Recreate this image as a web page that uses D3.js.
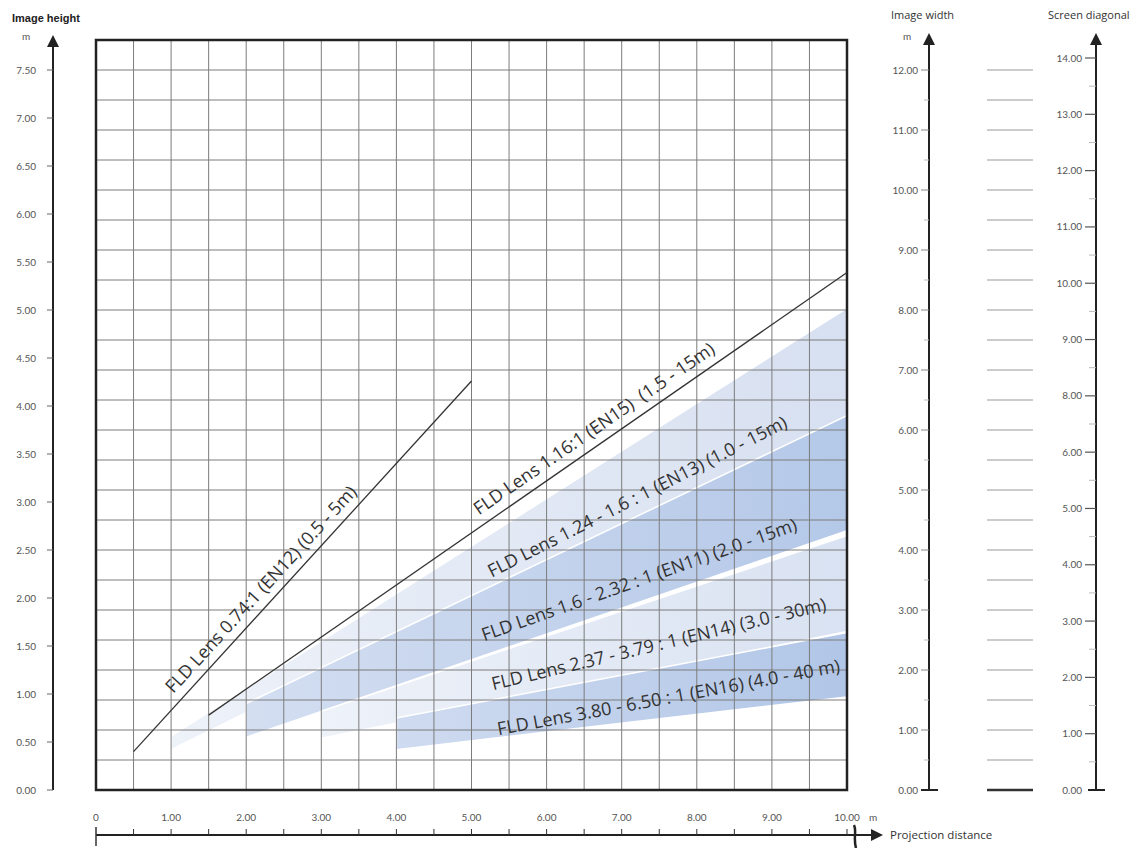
<!DOCTYPE html>
<html lang="en">
<head>
<meta charset="UTF-8">
<title>FLD Lens projection chart</title>
<script src="https://d3js.org/d3.v7.min.js"></script>
<style>
    body { margin: 0; background: #fff; }
    .tick-label { font-family: Lato, 'Liberation Sans', sans-serif; font-size: 10px; fill: #555; }
    .lens-label { font-family: 'Open Sans', sans-serif; font-size: 18px; fill: #333; white-space: pre; }
    .axis-title { font-family: 'Open Sans', sans-serif; font-size: 11px; fill: #333; }
</style>
</head>
<body>
<svg id="chart" width="1148" height="848"></svg>
<script>
// projection distance ticks (m)
const distTicks = [0, 1, 2, 3, 4, 5, 6, 7, 8, 9, 10];
const distLabels = ["0", "1.00", "2.00", "3.00", "4.00", "5.00", "6.00", "7.00", "8.00", "9.00", "10.00"];
// image height ticks (m)
const heightTicks = [0, 0.5, 1, 1.5, 2, 2.5, 3, 3.5, 4, 4.5, 5, 5.5, 6, 6.5, 7, 7.5];
// image width ticks (m)
const widthTicks = [0, 1, 2, 3, 4, 5, 6, 7, 8, 9, 10, 11, 12];
// screen diagonal labels as printed (7.00 is missing in the original)
const diagLabels = ["0.00", "1.00", "2.00", "3.00", "4.00", "5.00", "6.00", "8.00", "9.00", "10.00", "11.00", "12.00", "13.00", "14.00"];

// fixed lenses: [distance, height] at both ends
const lineLabels = ["FLD Lens 0.74:1 (EN12) (0.5 - 5m)", "FLD Lens 1.16:1 (EN15)  (1.5 - 15m)"];
const lineFrom = [[0.5, 0.40], [1.5, 0.78]];
const lineTo = [[5.0, 4.26], [10.0, 5.39]];
const lineLabelAt = [[1.03, 1.00, -47.5], [5.10, 2.86, -34.6]];

// zoom lenses: start distance, heights (top, bottom) at start and at 10 m
const wedgeLabels = [
    "FLD Lens 1.24 - 1.6 : 1 (EN13) (1.0 - 15m)",
    "FLD Lens 1.6 - 2.32 : 1 (EN11) (2.0 - 15m)",
    "FLD Lens 2.37 - 3.79 : 1 (EN14) (3.0 - 30m)",
    "FLD Lens 3.80 - 6.50 : 1 (EN16) (4.0 - 40 m)"
];
const wedgeStart = [1.0, 2.0, 3.0, 4.0];
const wedgeTopStart = [0.56, 0.90, 0.82, 0.75];
const wedgeBottomStart = [0.42, 0.55, 0.54, 0.42];
const wedgeTopEnd = [5.02, 3.90, 2.65, 1.64];
const wedgeBottomEnd = [3.90, 2.70, 1.65, 0.97];
const wedgeLabelAt = [[5.27, 2.21, -27], [5.17, 1.55, -19.5], [5.29, 1.04, -13.5], [5.36, 0.57, -10.5]];

const wedgeColors = [["#eef2f9", "#d7e0f1"], ["#d3def1", "#b4c8e8"], ["#eef2f9", "#d9e2f2"], ["#cfdbf0", "#b1c6e7"]];

const svg = d3.select('#chart');

const x = d3.scaleLinear().domain([0, 10]).range([96, 847]);
const yH = d3.scaleLinear().domain([0, 7.5]).range([790, 70]);
const yW = d3.scaleLinear().domain([0, 12]).range([790, 70]);
const yD = d3.scalePoint().domain(diagLabels).range([790, 58]);

function arrowUp(g, cx, tipY) {
    g.append('path')
        .attr('d', 'M' + cx + ',' + tipY + 'L' + (cx - 6) + ',' + (tipY + 12) + 'L' + (cx + 6) + ',' + (tipY + 12) + 'Z')
        .attr('fill', '#222');
}

// wedges
const defs = svg.append('defs');
wedgeStart.forEach(function(s, i) {
    const grad = defs.append('linearGradient')
        .attr('id', 'wg' + i)
        .attr('gradientUnits', 'userSpaceOnUse')
        .attr('x1', x(s)).attr('x2', x(10)).attr('y1', 0).attr('y2', 0);
    grad.append('stop').attr('offset', 0).attr('stop-color', wedgeColors[i][0]);
    grad.append('stop').attr('offset', 1).attr('stop-color', wedgeColors[i][1]);
});

const area = d3.line().x(function(d) { return x(d[0]); }).y(function(d) { return yH(d[1]); });
svg.append('g').selectAll('path')
    .data(wedgeStart)
    .enter().append('path')
    .attr('d', function(s, i) {
        return area([[s, wedgeTopStart[i]], [10, wedgeTopEnd[i]], [10, wedgeBottomEnd[i]], [s, wedgeBottomStart[i]]]) + 'Z';
    })
    .attr('fill', function(s, i) { return 'url(#wg' + i + ')'; })
    .attr('stroke', '#fff')
    .attr('stroke-width', 1.5);

// grid: columns every 0.5 m distance, rows every 0.5 m image width
const grid = svg.append('g').attr('stroke', '#7c7c7c').attr('stroke-width', 1);
grid.selectAll('.v')
    .data(d3.range(0.5, 10, 0.5))
    .enter().append('line')
    .attr('x1', function(d) { return x(d); }).attr('x2', function(d) { return x(d); })
    .attr('y1', yW(0)).attr('y2', yW(12.5));
grid.selectAll('.h')
    .data(d3.range(0.5, 12.5, 0.5))
    .enter().append('line')
    .attr('x1', x(0)).attr('x2', x(10))
    .attr('y1', function(d) { return yW(d); }).attr('y2', function(d) { return yW(d); });

svg.append('rect')
    .attr('x', x(0)).attr('y', yW(12.5))
    .attr('width', x(10) - x(0)).attr('height', yW(0) - yW(12.5))
    .attr('fill', 'none').attr('stroke', '#222').attr('stroke-width', 2.5);

// fixed lens lines
svg.append('g').selectAll('line')
    .data(lineFrom)
    .enter().append('line')
    .attr('x1', function(d) { return x(d[0]); })
    .attr('y1', function(d) { return yH(d[1]); })
    .attr('x2', function(d, i) { return x(lineTo[i][0]); })
    .attr('y2', function(d, i) { return yH(lineTo[i][1]); })
    .attr('stroke', '#333').attr('stroke-width', 1.3);

// lens labels
const labels = lineLabels.concat(wedgeLabels);
const labelAt = lineLabelAt.concat(wedgeLabelAt);
svg.append('g').selectAll('text')
    .data(labels)
    .enter().append('text')
    .attr('class', 'lens-label')
    .attr('xml:space', 'preserve')
    .attr('transform', function(d, i) {
        return 'translate(' + x(labelAt[i][0]) + ',' + yH(labelAt[i][1]) + ') rotate(' + labelAt[i][2] + ')';
    })
    .text(function(d) { return d; });

// left axis: image height
const left = svg.append('g');
left.append('line').attr('x1', 53).attr('x2', 53).attr('y1', yH(0)).attr('y2', 44)
    .attr('stroke', '#222').attr('stroke-width', 2);
arrowUp(left, 53, 35);
left.selectAll('.tk').data(heightTicks).enter().append('line')
    .attr('x1', 47).attr('x2', 53)
    .attr('y1', function(d) { return yH(d); }).attr('y2', function(d) { return yH(d); })
    .attr('stroke', '#666').attr('stroke-width', 1);
left.selectAll('text').data(heightTicks).enter().append('text')
    .attr('class', 'tick-label')
    .attr('x', 36).attr('y', function(d) { return yH(d); })
    .attr('dy', '0.35em').attr('text-anchor', 'end')
    .text(function(d) { return d.toFixed(2); });
left.append('text').attr('class', 'tick-label').attr('x', 22).attr('y', 40).text('m');
svg.append('text').attr('x', 12).attr('y', 22)
    .style('font-family', "'Liberation Sans', Arial, sans-serif").style('font-size', '11px')
    .style('font-weight', 'bold').style('fill', '#222')
    .text('Image height');

// bottom axis: projection distance
const bottom = svg.append('g');
bottom.append('line').attr('x1', x(0)).attr('x2', 876).attr('y1', 835).attr('y2', 835)
    .attr('stroke', '#222').attr('stroke-width', 2);
bottom.append('path').attr('d', 'M883,835L871,829L871,841Z').attr('fill', '#222');
bottom.selectAll('.tk').data(d3.range(0.5, 10.5, 0.5)).enter().append('line')
    .attr('x1', function(d) { return x(d); }).attr('x2', function(d) { return x(d); })
    .attr('y1', 829).attr('y2', 835)
    .attr('stroke', '#333').attr('stroke-width', 1);
bottom.append('line').attr('x1', x(0)).attr('x2', x(0)).attr('y1', 827).attr('y2', 846)
    .attr('stroke', '#333').attr('stroke-width', 1.5);
bottom.append('path').attr('d', 'M854,825C857,831 853,838 856,848')
    .attr('fill', 'none').attr('stroke', '#222').attr('stroke-width', 2.5);
bottom.selectAll('text').data(distTicks).enter().append('text')
    .attr('class', 'tick-label')
    .attr('x', function(d) { return x(d); }).attr('y', 821)
    .attr('text-anchor', 'middle')
    .text(function(d, i) { return distLabels[i]; });
bottom.append('text').attr('class', 'tick-label').attr('x', 869).attr('y', 821).text('m');
bottom.append('text').attr('class', 'axis-title').attr('x', 890).attr('y', 839).style('font-size', '11.5px')
    .text('Projection distance');

// right axis: image width
const wAxis = svg.append('g');
wAxis.append('line').attr('x1', 929).attr('x2', 929).attr('y1', yW(0)).attr('y2', 42)
    .attr('stroke', '#222').attr('stroke-width', 2);
arrowUp(wAxis, 929, 33);
wAxis.selectAll('.mn').data(d3.range(0.5, 12, 1)).enter().append('line')
    .attr('x1', 924).attr('x2', 929)
    .attr('y1', function(d) { return yW(d); }).attr('y2', function(d) { return yW(d); })
    .attr('stroke', '#bbb').attr('stroke-width', 1);
wAxis.selectAll('.tk').data(widthTicks).enter().append('line')
    .attr('x1', 921).attr('x2', function(d) { return d === 0 ? 938 : 929; })
    .attr('y1', function(d) { return yW(d); }).attr('y2', function(d) { return yW(d); })
    .attr('stroke', function(d) { return d === 0 ? '#222' : '#888'; })
    .attr('stroke-width', function(d) { return d === 0 ? 2 : 1; });
wAxis.selectAll('text').data(widthTicks).enter().append('text')
    .attr('class', 'tick-label')
    .attr('x', 918).attr('y', function(d) { return yW(d); })
    .attr('dy', '0.35em').attr('text-anchor', 'end')
    .text(function(d) { return d.toFixed(2); });
wAxis.append('text').attr('class', 'tick-label').attr('x', 903).attr('y', 40).text('m');
svg.append('text').attr('class', 'axis-title').attr('x', 891).attr('y', 19).text('Image width');

// reference lines between the two right axes
svg.append('g').selectAll('line')
    .data(d3.range(0, 12.5, 0.5))
    .enter().append('line')
    .attr('x1', 987).attr('x2', 1033)
    .attr('y1', function(d) { return yW(d); }).attr('y2', function(d) { return yW(d); })
    .attr('stroke', function(d) { return d === 0 ? '#333' : '#999'; })
    .attr('stroke-width', function(d) { return d === 0 ? 2.5 : 1.2; });

// right axis: screen diagonal
const dAxis = svg.append('g');
dAxis.append('line').attr('x1', 1096).attr('x2', 1096).attr('y1', yD('0.00')).attr('y2', 42)
    .attr('stroke', '#222').attr('stroke-width', 2);
arrowUp(dAxis, 1096, 33);
const diagMid = diagLabels.slice(1).map(function(d, i) { return (yD(d) + yD(diagLabels[i])) / 2; });
dAxis.selectAll('.mn').data(diagMid).enter().append('line')
    .attr('x1', 1089).attr('x2', 1096)
    .attr('y1', function(d) { return d; }).attr('y2', function(d) { return d; })
    .attr('stroke', '#bbb').attr('stroke-width', 1);
dAxis.selectAll('.tk').data(diagLabels).enter().append('line')
    .attr('x1', function(d) { return d === '0.00' ? 1088 : 1085; })
    .attr('x2', function(d) { return d === '0.00' ? 1105 : 1096; })
    .attr('y1', function(d) { return yD(d); }).attr('y2', function(d) { return yD(d); })
    .attr('stroke', function(d) { return d === '0.00' ? '#222' : '#555'; })
    .attr('stroke-width', function(d) { return d === '0.00' ? 2 : 1.2; });
dAxis.selectAll('text').data(diagLabels).enter().append('text')
    .attr('class', 'tick-label')
    .attr('x', 1082).attr('y', function(d) { return yD(d); })
    .attr('dy', '0.35em').attr('text-anchor', 'end')
    .text(function(d) { return d; });
svg.append('text').attr('class', 'axis-title').attr('x', 1048).attr('y', 19).text('Screen diagonal');
</script>
</body>
</html>
